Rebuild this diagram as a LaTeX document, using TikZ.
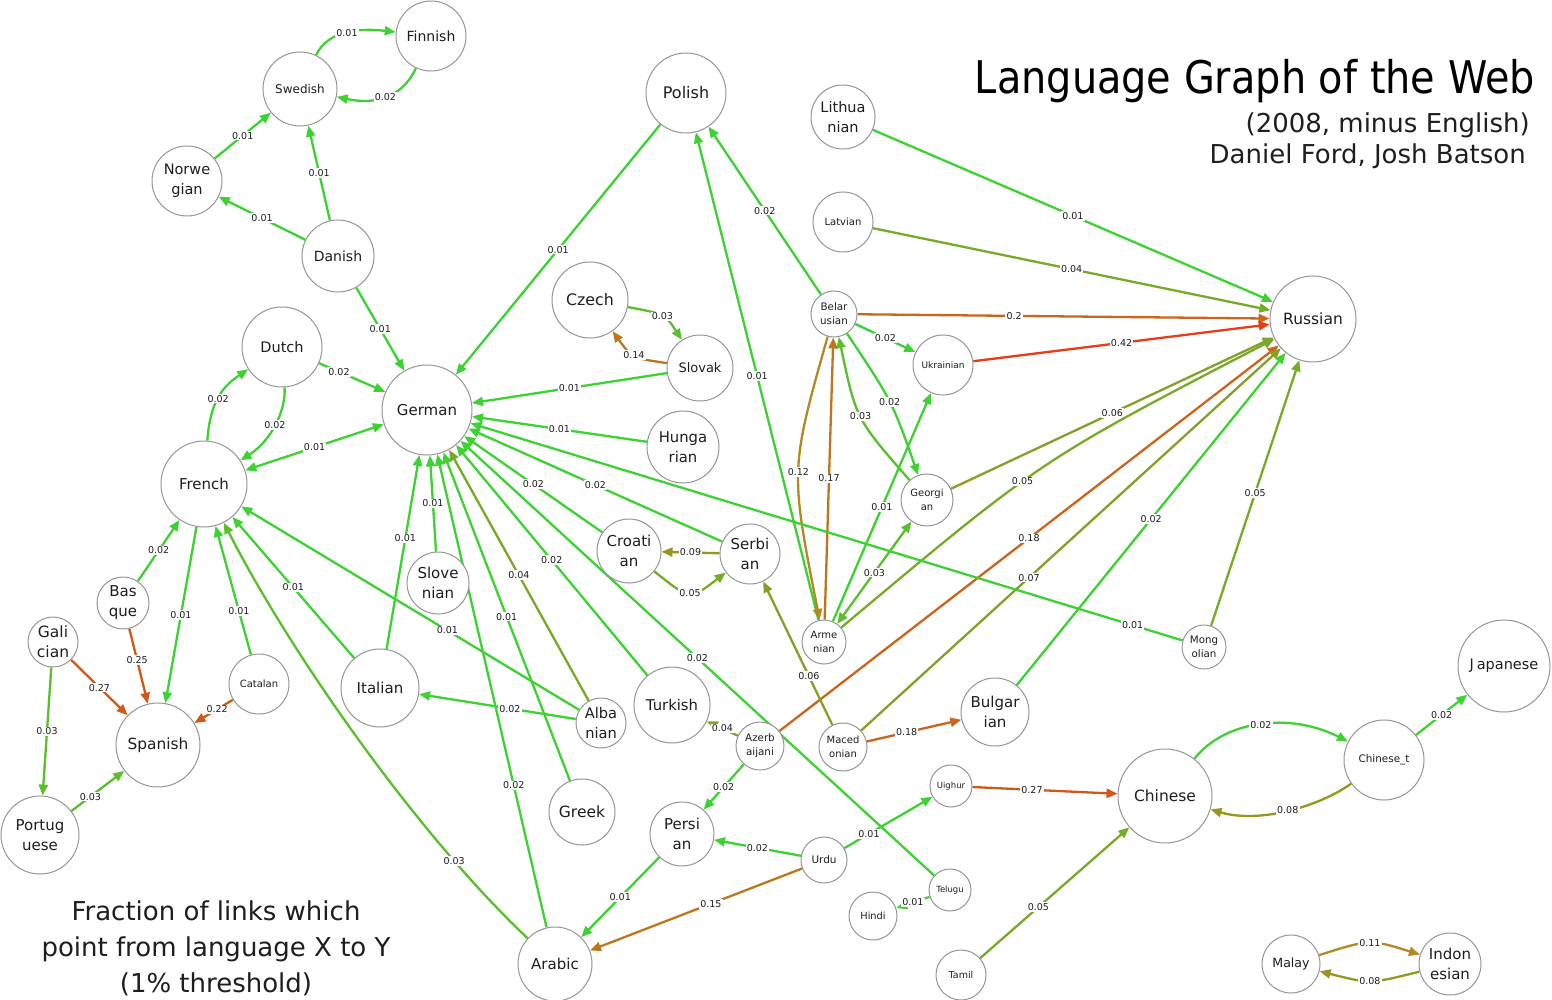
\documentclass[tikz,border=0pt]{standalone}
\usepackage{fontspec}
\setmainfont{DejaVu Sans}
\usepackage{graphicx}
\usetikzlibrary{arrows.meta}
\definecolor{c01}{RGB}{60,210,50}
\definecolor{c03}{RGB}{90,190,45}
\definecolor{c05}{RGB}{118,170,40}
\definecolor{c07}{RGB}{132,160,38}
\definecolor{c09}{RGB}{150,150,32}
\definecolor{c12}{RGB}{180,136,34}
\definecolor{c15}{RGB}{190,118,30}
\definecolor{c20}{RGB}{205,100,28}
\definecolor{c27}{RGB}{210,88,22}
\definecolor{c42}{RGB}{235,60,22}
\definecolor{nodegray}{RGB}{150,150,150}
\definecolor{txt}{RGB}{30,30,30}
\newcommand\fz[2]{\fontsize{#1}{#2}\selectfont}
\pgfdeclarelayer{bglayer}
\pgfdeclarelayer{edgelayer}
\pgfsetlayers{bglayer,edgelayer,main}
\tikzset{
  lang/.style={circle, draw=nodegray, line width=1pt, fill=white, inner sep=0pt, align=center, text=txt},
  ed/.style={draw=#1, line width=2.3pt, -{Triangle[length=11pt,width=9pt]}},
  bi/.style={draw=#1, line width=2.3pt, {Triangle[length=11pt,width=9pt]}-{Triangle[length=11pt,width=9pt]}},
  lab/.style={fill=white, inner sep=1.2pt, text=txt, font=\fz{9.5}{11}},
}
\begin{document}
\begin{tikzpicture}[x=1pt,y=-1pt]
\begin{pgfonlayer}{bglayer}
\fill[white] (0,0) rectangle (1552,1000);
\end{pgfonlayer}
\useasboundingbox (0,0) rectangle (1552,1000);
% titles
\node[anchor=base east, inner sep=0pt, font=\fz{45}{50}, text=black] (title) at (1535,94) {\scalebox{0.885}[1]{Language Graph of the Web}};
\node[anchor=base east, inner sep=0pt, font=\fz{26}{30}, text=txt] (sub) at (1530,133) {(2008, minus English)};
\node[anchor=base east, inner sep=0pt, font=\fz{26}{30}, text=txt] (auth) at (1526,164) {Daniel Ford, Josh Batson};
\node[anchor=base, inner sep=0pt, font=\fz{26}{30}, text=txt] (cap1) at (216,920) {Fraction of links which};
\node[anchor=base, inner sep=0pt, font=\fz{26}{30}, text=txt] (cap2) at (216,956) {point from language X to Y};
\node[anchor=base, inner sep=0pt, font=\fz{26}{30}, text=txt] (cap3) at (216,992) {(1\% threshold)};
% nodes
\node[lang,minimum size=74pt,font=\fz{12}{16}] (swe) at (300,89) {Swedish};
\node[lang,minimum size=70pt,font=\fz{14}{19}] (fin) at (431,36) {Finnish};
\node[lang,minimum size=70pt,font=\fz{14.5}{20}] (nor) at (187,181) {Norwe\\gian};
\node[lang,minimum size=72pt,font=\fz{14}{19}] (dan) at (338,256) {Danish};
\node[lang,minimum size=80pt,font=\fz{16}{21}] (pol) at (686,93) {Polish};
\node[lang,minimum size=64pt,font=\fz{14.5}{20}] (lit) at (843,117) {Lithua\\nian};
\node[lang,minimum size=60pt,font=\fz{10}{14}] (lat) at (843,222) {Latvian};
\node[lang,minimum size=46pt,font=\fz{10.3}{14}] (bel) at (834,314) {Belar\\usian};
\node[lang,minimum size=86pt,font=\fz{15.5}{21}] (rus) at (1313,319) {Russian};
\node[lang,minimum size=76pt,font=\fz{15.8}{21}] (cze) at (590,300) {Czech};
\node[lang,minimum size=66pt,font=\fz{13}{18}] (slk) at (700,368) {Slovak};
\node[lang,minimum size=90pt,font=\fz{15}{21}] (ger) at (427,410) {German};
\node[lang,minimum size=72pt,font=\fz{14.8}{20}] (hun) at (683,447) {Hunga\\rian};
\node[lang,minimum size=60pt,font=\fz{9}{12}] (ukr) at (943,365) {Ukrainian};
\node[lang,minimum size=52pt,font=\fz{10}{14}] (geo) at (927,500) {Georgi\\an};
\node[lang,minimum size=44pt,font=\fz{10}{14}] (arm) at (824,642) {Arme\\nian};
\node[lang,minimum size=80pt,font=\fz{14.5}{20}] (dut) at (282,347) {Dutch};
\node[lang,minimum size=86pt,font=\fz{15}{21}] (fre) at (204,484) {French};
\node[lang,minimum size=52pt,font=\fz{15}{20}] (bas) at (123,603) {Bas\\que};
\node[lang,minimum size=50pt,font=\fz{15.5}{20}] (gal) at (53,642) {Gali\\cian};
\node[lang,minimum size=60pt,font=\fz{10}{14}] (cat) at (259,684) {Catalan};
\node[lang,minimum size=84pt,font=\fz{15.4}{21}] (spa) at (158,745) {Spanish};
\node[lang,minimum size=78pt,font=\fz{15}{20}] (por) at (40,835) {Portug\\uese};
\node[lang,minimum size=78pt,font=\fz{15}{21}] (ita) at (380,688) {Italian};
\node[lang,minimum size=62pt,font=\fz{15}{20}] (slv) at (438,583) {Slove\\nian};
\node[lang,minimum size=64pt,font=\fz{15}{20}] (cro) at (629,551) {Croati\\an};
\node[lang,minimum size=60pt,font=\fz{15}{20}] (ser) at (750,554) {Serbi\\an};
\node[lang,minimum size=50pt,font=\fz{14.6}{20}] (alb) at (601,723) {Alba\\nian};
\node[lang,minimum size=76pt,font=\fz{14.8}{20}] (tur) at (672,705) {Turkish};
\node[lang,minimum size=48pt,font=\fz{10.3}{14}] (aze) at (760,746) {Azerb\\aijani};
\node[lang,minimum size=66pt,font=\fz{15.5}{21}] (gre) at (582,812) {Greek};
\node[lang,minimum size=64pt,font=\fz{15}{20}] (per) at (682,834) {Persi\\an};
\node[lang,minimum size=74pt,font=\fz{15}{21}] (ara) at (555,964) {Arabic};
\node[lang,minimum size=48pt,font=\fz{10}{14}] (mac) at (843,747) {Maced\\onian};
\node[lang,minimum size=68pt,font=\fz{15}{20}] (bul) at (995,712) {Bulgar\\ian};
\node[lang,minimum size=42pt,font=\fz{8.5}{12}] (uig) at (951,786) {Uighur};
\node[lang,minimum size=46pt,font=\fz{10.4}{14}] (urd) at (824,860) {Urdu};
\node[lang,minimum size=42pt,font=\fz{8.5}{12}] (tel) at (950,890) {Telugu};
\node[lang,minimum size=48pt,font=\fz{9.8}{13}] (hin) at (873,916) {Hindi};
\node[lang,minimum size=50pt,font=\fz{9.5}{13}] (tam) at (961,975) {Tamil};
\node[lang,minimum size=94pt,font=\fz{15.5}{21}] (chi) at (1165,796) {Chinese};
\node[lang,minimum size=80pt,font=\fz{10.4}{14}] (cht) at (1384,760) {Chinese\_t};
\node[lang,minimum size=92pt,font=\fz{14.5}{20}] (jap) at (1504,666) {J\hspace{0.2em}apanese};
\node[lang,minimum size=44pt,font=\fz{10.3}{14}] (mon) at (1204,647) {Mong\\olian};
\node[lang,minimum size=58pt,font=\fz{12.6}{17}] (mal) at (1291,964) {Malay};
\node[lang,minimum size=62pt,font=\fz{15}{20}] (ind) at (1450,964) {Indon\\esian};
% edges
\begin{pgfonlayer}{edgelayer}
\draw[ed=c01] (nor) -- node[lab]{0.01} (swe);
\draw[ed=c01] (dan) -- node[lab]{0.01} (swe);
\draw[ed=c01] (dan) -- node[lab]{0.01} (nor);
\draw[ed=c01] (dan) -- node[lab]{0.01} (ger);
\draw[ed=c01] (swe) .. controls (328,30) and (360,28) .. node[lab]{0.01} (fin);
\draw[ed=c01] (fin) .. controls (402,98) and (375,105) .. node[lab]{0.02} (swe);
\draw[ed=c01] (pol) -- node[lab]{0.01} (ger);
\draw[ed=c01] (bel) -- node[lab]{0.02} (pol);
\draw[ed=c01] (arm) -- node[lab]{0.01} (pol);
\draw[ed=c01] (lit) -- node[lab]{0.01} (rus);
\draw[ed=c05] (lat) -- node[lab]{0.04} (rus);
\draw[ed=c20] (bel) -- node[lab,pos=0.38]{0.2} (rus);
\draw[ed=c42] (ukr) -- node[lab]{0.42} (rus);
\draw[ed=c07] (geo) -- node[lab]{0.06} (rus);
\draw[ed=c05] (arm) .. controls (1041,460) .. node[lab,pos=0.43]{0.05} (rus);
\draw[ed=c20] (aze) -- node[lab]{0.18} (rus);
\draw[ed=c07] (mac) -- node[lab,pos=0.4]{0.07} (rus);
\draw[ed=c01] (bul) -- node[lab]{0.02} (rus);
\draw[ed=c05] (mon) -- node[lab]{0.05} (rus);
\draw[ed=c01] (bel) -- node[lab]{0.02} (ukr);
\draw[ed=c01] (bel) .. controls (892,401) .. node[lab]{0.02} (geo);
\draw[ed=c03] (geo) .. controls (856,419) .. node[lab]{0.03} (bel);
\draw[ed=c15] (arm) -- node[lab]{0.17} (bel);
\draw[ed=c12] (bel) .. controls (790,470) .. node[lab]{0.12} (arm);
\draw[ed=c01] (arm) -- node[lab]{0.01} (ukr);
\draw[bi=c03] (arm) -- node[lab]{0.03} (geo);
\draw[ed=c03] (cze) .. controls (665,314) .. node[lab]{0.03} (slk);
\draw[ed=c15] (slk) .. controls (632,358) .. node[lab]{0.14} (cze);
\draw[ed=c01] (slk) -- node[lab]{0.01} (ger);
\draw[ed=c01] (hun) -- node[lab]{0.01} (ger);
\draw[ed=c01] (cro) -- node[lab]{0.02} (ger);
\draw[ed=c01] (ser) -- node[lab]{0.02} (ger);
\draw[ed=c01] (mon) -- node[lab,pos=0.07]{0.01} (ger);
\draw[ed=c01] (tur) -- node[lab]{0.02} (ger);
\draw[ed=c01] (tel) -- node[lab]{0.02} (ger);
\draw[ed=c01] (ita) -- node[lab,pos=0.57]{0.01} (ger);
\draw[ed=c01] (slv) -- node[lab]{0.01} (ger);
\draw[ed=c01] (ara) -- node[lab,pos=0.3]{0.02} (ger);
\draw[ed=c01] (gre) -- node[lab]{0.01} (ger);
\draw[ed=c05] (alb) -- node[lab]{0.04} (ger);
\draw[bi=c01] (fre) -- node[lab]{0.01} (ger);
\draw[ed=c01] (dut) -- node[lab,pos=0.3]{0.02} (ger);
\draw[ed=c01] (fre) .. controls (210,405) and (220,388) .. node[lab]{0.02} (dut);
\draw[ed=c01] (dut) .. controls (286,410) and (272,440) .. node[lab]{0.02} (fre);
\draw[ed=c01] (bas) -- node[lab]{0.02} (fre);
\draw[ed=c01] (fre) -- node[lab]{0.01} (spa);
\draw[ed=c01] (cat) -- node[lab,pos=0.34]{0.01} (fre);
\draw[ed=c03] (ara) .. controls (419,836) and (292,656) .. node[lab,pos=0.22]{0.03} (fre);
\draw[ed=c01] (ita) -- node[lab]{0.01} (fre);
\draw[ed=c01] (alb) -- node[lab,pos=0.39]{0.01} (fre);
\draw[ed=c01] (alb) -- node[lab,pos=0.42]{0.02} (ita);
\draw[ed=c27] (gal) -- node[lab]{0.27} (spa);
\draw[ed=c27] (bas) -- node[lab,pos=0.42]{0.25} (spa);
\draw[ed=c27] (cat) -- node[lab,pos=0.41]{0.22} (spa);
\draw[ed=c03] (gal) -- node[lab]{0.03} (por);
\draw[ed=c03] (por) -- node[lab,pos=0.36]{0.03} (spa);
\draw[ed=c09] (ser) -- node[lab]{0.09} (cro);
\draw[ed=c05] (cro) .. controls (690,600) .. node[lab]{0.05} (ser);
\draw[ed=c07] (mac) -- node[lab,pos=0.34]{0.06} (ser);
\draw[ed=c05] (aze) -- node[lab]{0.04} (tur);
\draw[ed=c01] (aze) -- node[lab]{0.02} (per);
\draw[ed=c01] (urd) -- node[lab]{0.02} (per);
\draw[ed=c01] (per) -- node[lab]{0.01} (ara);
\draw[ed=c15] (urd) -- node[lab,pos=0.43]{0.15} (ara);
\draw[ed=c01] (urd) -- node[lab,pos=0.28]{0.01} (uig);
\draw[ed=c01] (tel) -- node[lab]{0.01} (hin);
\draw[ed=c27] (uig) -- node[lab,pos=0.41]{0.27} (chi);
\draw[ed=c05] (tam) -- node[lab,pos=0.39]{0.05} (chi);
\draw[ed=c20] (mac) -- node[lab,pos=0.42]{0.18} (bul);
\draw[ed=c01] (chi) .. controls (1225,720) and (1290,712) .. node[lab]{0.02} (cht);
\draw[ed=c09] (cht) .. controls (1320,806) and (1260,824) .. node[lab]{0.08} (chi);
\draw[ed=c01] (cht) -- node[lab]{0.02} (jap);
\draw[ed=c12] (mal) .. controls (1370,939) .. node[lab]{0.11} (ind);
\draw[ed=c09] (ind) .. controls (1370,984) .. node[lab]{0.08} (mal);
\end{pgfonlayer}
\end{tikzpicture}
\end{document}
